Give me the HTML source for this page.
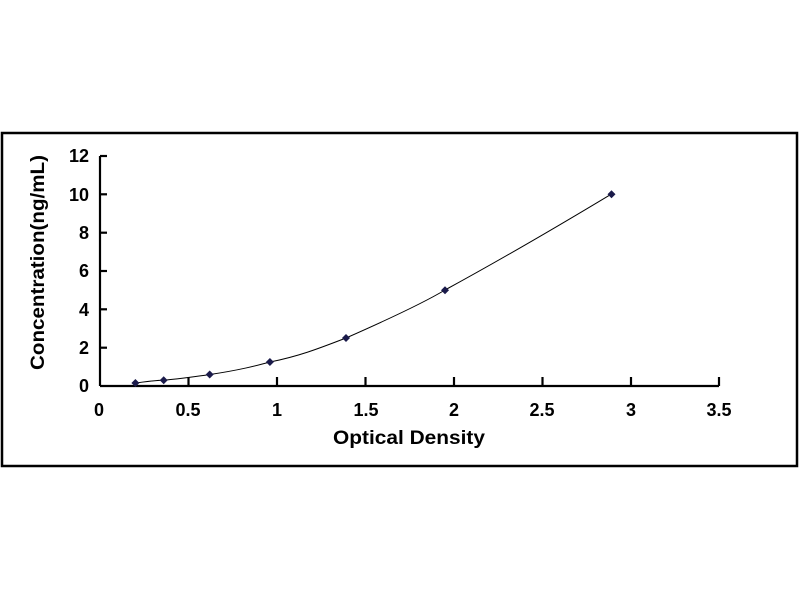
<!DOCTYPE html>
<html><head><style>body{margin:0;background:#fff}svg{display:block}text{font-family:"Liberation Sans",Arial,sans-serif;font-weight:bold;fill:#000}</style></head>
<body>
<svg width="800" height="600" viewBox="0 0 800 600">
<rect x="2" y="133" width="795" height="333" fill="none" stroke="#000" stroke-width="2.5"/>
<g stroke="#000" stroke-width="2.2">
<line x1="100" y1="156" x2="100" y2="386"/>
<line x1="100" y1="386" x2="719" y2="386"/>
<line x1="100" y1="156" x2="107" y2="156"/>
<line x1="100" y1="194.3" x2="107" y2="194.3"/>
<line x1="100" y1="232.7" x2="107" y2="232.7"/>
<line x1="100" y1="271" x2="107" y2="271"/>
<line x1="100" y1="309.3" x2="107" y2="309.3"/>
<line x1="100" y1="347.7" x2="107" y2="347.7"/>
<line x1="188.5" y1="386" x2="188.5" y2="377"/>
<line x1="277" y1="386" x2="277" y2="377"/>
<line x1="365.5" y1="386" x2="365.5" y2="377"/>
<line x1="454" y1="386" x2="454" y2="377"/>
<line x1="542.5" y1="386" x2="542.5" y2="377"/>
<line x1="631" y1="386" x2="631" y2="377"/>
<line x1="719" y1="386" x2="719" y2="377"/>
</g>
<g font-size="18" text-anchor="end">
<text x="89" y="162">12</text><text x="89" y="201">10</text><text x="89" y="239">8</text>
<text x="89" y="277">6</text><text x="89" y="316">4</text><text x="89" y="354">2</text><text x="89" y="392">0</text>
</g>
<g font-size="18" text-anchor="middle">
<text x="99" y="416">0</text><text x="188" y="416">0.5</text><text x="277" y="416">1</text>
<text x="366" y="416">1.5</text><text x="454" y="416">2</text><text x="542" y="416">2.5</text>
<text x="631" y="416">3</text><text x="719" y="416">3.5</text>
</g>
<text x="333" y="444" font-size="19" textLength="152" lengthAdjust="spacingAndGlyphs">Optical Density</text>
<text transform="translate(44,370) rotate(-90)" font-size="19" textLength="215" lengthAdjust="spacingAndGlyphs">Concentration(ng/mL)</text>
<path d="M135.4,383.1 C150,381 160,380 164,380.3 C185,378 200,376 210,374.5 C240,370 255,366 270,362 C300,356 320,348 346,338 C380,323 420,305 445,290 C500,260 560,225 611,194.3" fill="none" stroke="#000" stroke-width="1"/>
<g fill="#1a1a4a">
<path d="M135.4,379 l4,4 l-4,4 l-4,-4z"/>
<path d="M163.7,376.2 l4,4 l-4,4 l-4,-4z"/>
<path d="M209.7,370.5 l4,4 l-4,4 l-4,-4z"/>
<path d="M269.9,358 l4,4 l-4,4 l-4,-4z"/>
<path d="M346,334 l4,4 l-4,4 l-4,-4z"/>
<path d="M445,286.2 l4,4 l-4,4 l-4,-4z"/>
<path d="M611.5,190.3 l4,4 l-4,4 l-4,-4z"/>
</g>
</svg>
</body></html>
